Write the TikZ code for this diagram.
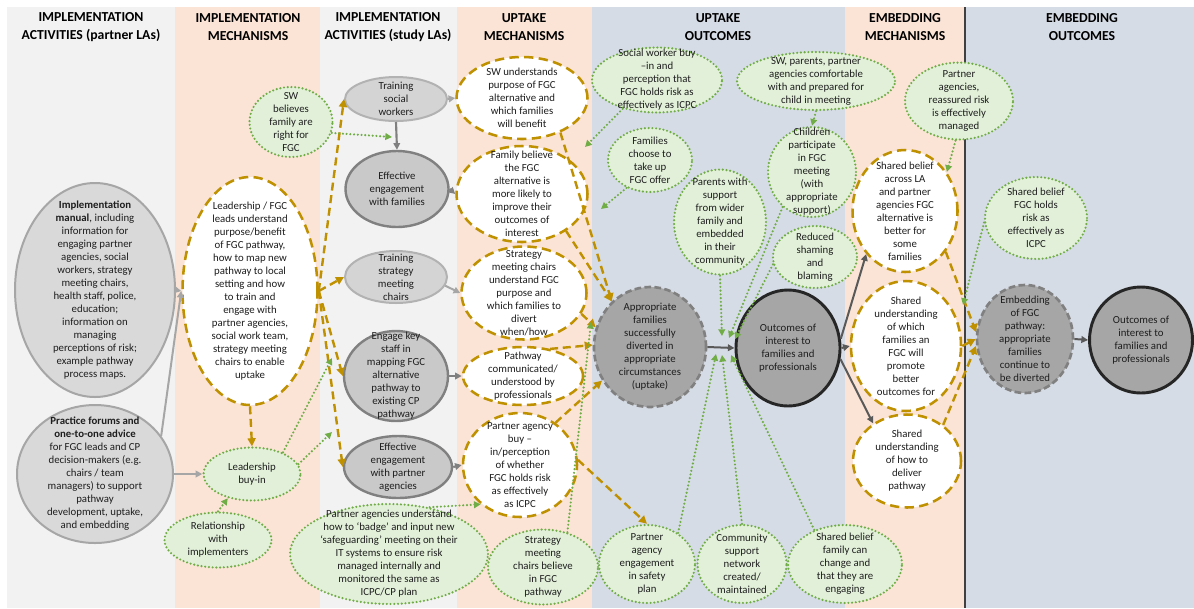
\documentclass[tikz,border=0pt]{standalone}
\usepackage{fontspec}
\setmainfont{Carlito}
\usetikzlibrary{shapes.geometric,arrows.meta}
\definecolor{cgrey}{HTML}{F2F2F2}
\definecolor{cpink}{HTML}{FBE4D6}
\definecolor{cblue}{HTML}{D6DCE5}
\definecolor{gold}{HTML}{BF9000}
\definecolor{ggreen}{HTML}{70AD47}
\definecolor{lgreen}{HTML}{E2F0D9}
\definecolor{txt}{HTML}{1E1E1E}
\newcommand\EL[7]{\node[#1,minimum width=#5*0.75pt,minimum height=#6*0.75pt] (#2) at (#3,#4) {};
  \node[tx] (#2-t) at (#2) {#7};}
\begin{document}
\begin{tikzpicture}[x=0.75pt,y=-0.75pt,
  tx/.style={font=\fontsize{8.1}{9.75}\selectfont, align=center, inner sep=0pt, text=txt},
  hd/.style={font=\bfseries\fontsize{10.3}{13.5}\selectfont, align=center, inner sep=0pt, text=black},
  eb/.style={ellipse, inner sep=0pt},
  gbox/.style={eb, fill=black!15, draw=black!35, line width=1.5pt},
  lgbox/.style={eb, fill=black!17, draw=black!30, line width=1.5pt},
  dgbox/.style={eb, fill=black!21, draw=black!50, line width=1.8pt},
  wdash/.style={eb, fill=white, draw=gold, line width=1.9pt, dash pattern=on 7pt off 4pt},
  gel/.style={eb, fill=lgreen, draw=ggreen, line width=1.8pt, dash pattern=on 0pt off 2.8pt, line cap=round},
  appbox/.style={eb, fill=black!35, draw=black!50, line width=2pt, dash pattern=on 5pt off 2.5pt},
  outbox/.style={eb, fill=black!35, draw=black!85, line width=2.2pt},
  gline/.style={draw=black!35, line width=1.5pt, -{Triangle[length=5pt,width=5pt]}},
  dline/.style={draw=black!50, line width=1.6pt, -{Triangle[length=5pt,width=5pt]}},
  kline/.style={draw=black!65, line width=1.5pt, -{Triangle[length=5pt,width=5pt]}},
  gd/.style={draw=gold, line width=1.8pt, dash pattern=on 6pt off 3.5pt, -{Triangle[length=6pt,width=6pt]}},
  gdot/.style={draw=ggreen, line width=1.8pt, line cap=round, dash pattern=on 0pt off 2.8pt, -{Triangle[length=5pt,width=5pt]}}
]
\useasboundingbox (0,0) rectangle (1194,608);
\fill[white] (0,0) rectangle (1194,608);
\fill[cgrey] (7,7) rectangle (175,608);
\fill[cpink] (175,7) rectangle (320,608);
\fill[cgrey] (320,7) rectangle (457,608);
\fill[cpink] (457,7) rectangle (592,608);
\fill[cblue] (592,7) rectangle (845,608);
\fill[cpink] (845,7) rectangle (965,608);
\fill[cblue] (965,7) rectangle (1194,608);
\draw[line width=1.2pt, black!75] (965,7) -- (965,608);

% headers
\node[hd] (h1) at (91,27) {IMPLEMENTATION\\ACTIVITIES (partner LAs)};
\node[hd] (h2) at (248,27) {IMPLEMENTATION\\MECHANISMS};
\node[hd] (h3) at (388,27) {IMPLEMENTATION\\ACTIVITIES (study LAs)};
\node[hd] (h4) at (524,27) {UPTAKE\\MECHANISMS};
\node[hd] (h5) at (718,27) {UPTAKE\\OUTCOMES};
\node[hd] (h6) at (905,27) {EMBEDDING\\MECHANISMS};
\node[hd] (h7) at (1082,27) {EMBEDDING\\OUTCOMES};

% column 1
\EL{gbox}{man}{95}{290}{160}{214}{\textbf{Implementation}\\\textbf{manual}, including\\information for\\engaging partner\\agencies, social\\workers, strategy\\meeting chairs,\\health staff, police,\\education;\\information on\\managing\\perceptions of risk;\\example pathway\\process maps.}
\EL{gbox}{pf}{95}{474}{156}{138}{\textbf{Practice forums and}\\\textbf{one-to-one advice}\\for FGC leads and CP\\decision-makers (e.g.\\chairs / team\\managers) to support\\pathway\\development, uptake,\\and embedding}

% column 2
\EL{wdash}{lead}{250}{291}{135}{228}{Leadership / FGC\\leads understand\\purpose/benefit\\of FGC pathway,\\how to map new\\pathway to local\\setting and how\\to train and\\engage with\\partner agencies,\\social work team,\\strategy meeting\\chairs to enable\\uptake}
\EL{gel}{swb}{291}{122}{83}{70}{SW\\believes\\family are\\right for\\FGC}
\EL{gel}{lbi}{252}{474}{97}{53}{Leadership\\buy-in}
\EL{gel}{ri}{218}{540}{107}{55}{Relationship\\with\\implementers}

% column 3
\EL{lgbox}{tsw}{396}{99}{102}{44}{Training\\social\\workers}
\EL{dgbox}{eef}{397}{189}{103}{76}{Effective\\engagement\\with families}
\EL{lgbox}{tsmc}{396}{277}{102}{52}{Training\\strategy\\meeting\\chairs}
\EL{dgbox}{eks}{396}{376}{104}{90}{Engage key\\staff in\\mapping FGC\\alternative\\pathway to\\existing CP\\pathway}
\EL{dgbox}{eepa}{398}{467}{108}{62}{Effective\\engagement\\with partner\\agencies}
\EL{gel}{badge}{389}{554}{198}{100}{Partner agencies understand\\how to ‘badge’ and input new\\‘safeguarding’ meeting on their\\IT systems to ensure risk\\managed internally and\\monitored the same as\\ICPC/CP plan}

% column 4
\EL{wdash}{swu}{522}{98}{131}{82}{SW understands\\purpose of FGC\\alternative and\\which families\\will benefit}
\EL{wdash}{fb}{522}{194}{131}{96}{Family believe\\the FGC\\alternative is\\more likely to\\improve their\\outcomes of\\interest}
\EL{wdash}{smcu}{524}{293}{125}{93}{Strategy\\meeting chairs\\understand FGC\\purpose and\\which families to\\divert\\when/how}
\EL{wdash}{pc}{523}{376}{120}{58}{Pathway\\communicated/\\understood by\\professionals}
\EL{wdash}{pab}{520}{465}{114}{104}{Partner agency\\buy –\\in/perception\\of whether\\FGC holds risk\\as effectively\\as ICPC}
\EL{gel}{smcb}{543}{567}{110}{75}{Strategy\\meeting\\chairs believe\\in FGC\\pathway}

% column 5
\EL{gel}{swbi}{657}{80}{130}{65}{Social worker buy\\–in and\\perception that\\FGC holds risk as\\effectively as ICPC}
\EL{gel}{fc}{650}{160}{84}{64}{Families\\choose to\\take up\\FGC offer}
\EL{gel}{swp}{816}{81}{158}{58}{SW, parents, partner\\agencies comfortable\\with and prepared for\\child in meeting}
\EL{gel}{ch}{812}{172}{88}{90}{Children\\participate\\in FGC\\meeting\\(with\\appropriate\\support)}
\EL{gel}{pws}{720}{222}{92}{105}{Parents with\\support\\from wider\\family and\\embedded\\in their\\community}
\EL{gel}{rs}{815}{257}{84}{62}{Reduced\\shaming\\and\\blaming}
\EL{appbox}{app}{650}{347}{112}{120}{Appropriate\\families\\successfully\\diverted in\\appropriate\\circumstances\\(uptake)}
\EL{outbox}{out}{788}{348}{104}{116}{Outcomes of\\interest to\\families and\\professionals}
\EL{gel}{paes}{647}{564}{96}{78}{Partner\\agency\\engagement\\in safety\\plan}
\EL{gel}{cs}{742}{564}{89}{78}{Community\\support\\network\\created/\\maintained}
\EL{gel}{sbf}{845}{564}{114}{78}{Shared belief\\family can\\change and\\that they are\\engaging}

% column 6
\EL{gel}{par}{959}{101}{108}{77}{Partner\\agencies,\\reassured risk\\is effectively\\managed}
\EL{wdash}{sbla}{905}{211}{105}{122}{Shared belief\\across LA\\and partner\\agencies FGC\\alternative is\\better for\\some\\families}
\EL{wdash}{su}{906}{346}{110}{130}{Shared\\understanding\\of which\\families an\\FGC will\\promote\\better\\outcomes for}
\EL{wdash}{sud}{907}{461}{108}{93}{Shared\\understanding\\of how to\\deliver\\pathway}

% column 7
\EL{gel}{sbfr}{1036}{218}{102}{82}{Shared belief\\FGC holds\\risk as\\effectively as\\ICPC}
\EL{appbox}{emb}{1025}{339}{96}{108}{Embedding\\of FGC\\pathway:\\appropriate\\families\\continue to\\be diverted}
\EL{outbox}{outr}{1141}{340}{103}{106}{Outcomes of\\interest to\\families and\\professionals}

% grey connectors
\draw[gline] (man.east) -- (lead.west);
\draw[gline] (pf.30) -- (lead.west);
\draw[gline] (pf.east) -- (lbi.west);
\draw[gline] (tsw.east) -- (swu.west);
\draw[dline] (tsw.south) -- (eef.north);
\draw[dline] (eef.east) -- (fb.west);
\draw[gline] (tsmc.-10) -- (smcu.west);
\draw[dline] (eks.east) -- (pc.west);
\draw[dline] (eepa.east) -- (pab.west);
\draw[kline] (app.east) -- (out.west);
\draw[kline] (out.10) -- (sbla.228);
\draw[kline] (out.east) -- (su.west);
\draw[kline] (out.-12) -- (sud.132);
\draw[kline] (emb.east) -- (outr.west);

% gold dashed connectors
\draw[gd] (lead.east) -- (tsw.west);
\draw[gd] (lead.east) -- (tsmc.west);
\draw[gd] (lead.east) -- (eks.west);
\draw[gd] (lead.east) -- (eepa.west);
\draw[gd] (lead.south) -- (lbi.north);
\draw[gd] (swu.-42) -- (app.130);
\draw[gd] (fb.-40) -- (app.130);
\draw[gd] (smcu.-20) -- (app.160);
\draw[gd] (pc.45) -- (app.178);
\draw[gd] (pab.50) -- (app.215);
\draw[gd] (pab.5) -- (paes.north);
\draw[gd] (sbla.-45) -- (emb.172);
\draw[gd] (su.east) -- (emb.west);
\draw[gd] (sud.45) -- (emb.188);

% green dotted connectors
\coordinate (c1) at (392,137);
\coordinate (c2) at (585,147);
\coordinate (c3) at (601,209);
\coordinate (c4) at (722,336);
\coordinate (c5) at (729,338);
\coordinate (c6) at (735,339);
\coordinate (c7) at (716,354);
\coordinate (c8) at (722,355);
\coordinate (c9) at (731,355);
\coordinate (c10) at (591,322);
\coordinate (c11) at (332,358);
\coordinate (c12) at (332,432);
\coordinate (c13) at (963,305);
\draw[gdot] (swb.-15) -- (c1);
\draw[gdot] (swbi.220) -- (c2);
\draw[gdot] (fc.230) -- (c3);
\draw[gdot] (pws.south) -- (c4);
\draw[gdot] (ch.230) -- (c5);
\draw[gdot] (rs.190) -- (c6);
\draw[gdot] (paes.45) -- (c7);
\draw[gdot] (cs.north) -- (c8);
\draw[gdot] (sbf.132) -- (c9);
\draw[gdot] (smcb.55) -- (c10);
\draw[gdot] (badge.49) -- (pab.225);
\draw[gdot] (ri.north) -- (lbi.225);
\draw[gdot] (lbi.35) -- (c11);
\draw[gdot] (lbi.12) -- (c12);
\draw[gdot] (swp.south) -- (ch.north);
\draw[gdot] (par.265) -- (sbla.43);
\draw[gdot] (sbfr.185) -- (c13);
\end{tikzpicture}
\end{document}
